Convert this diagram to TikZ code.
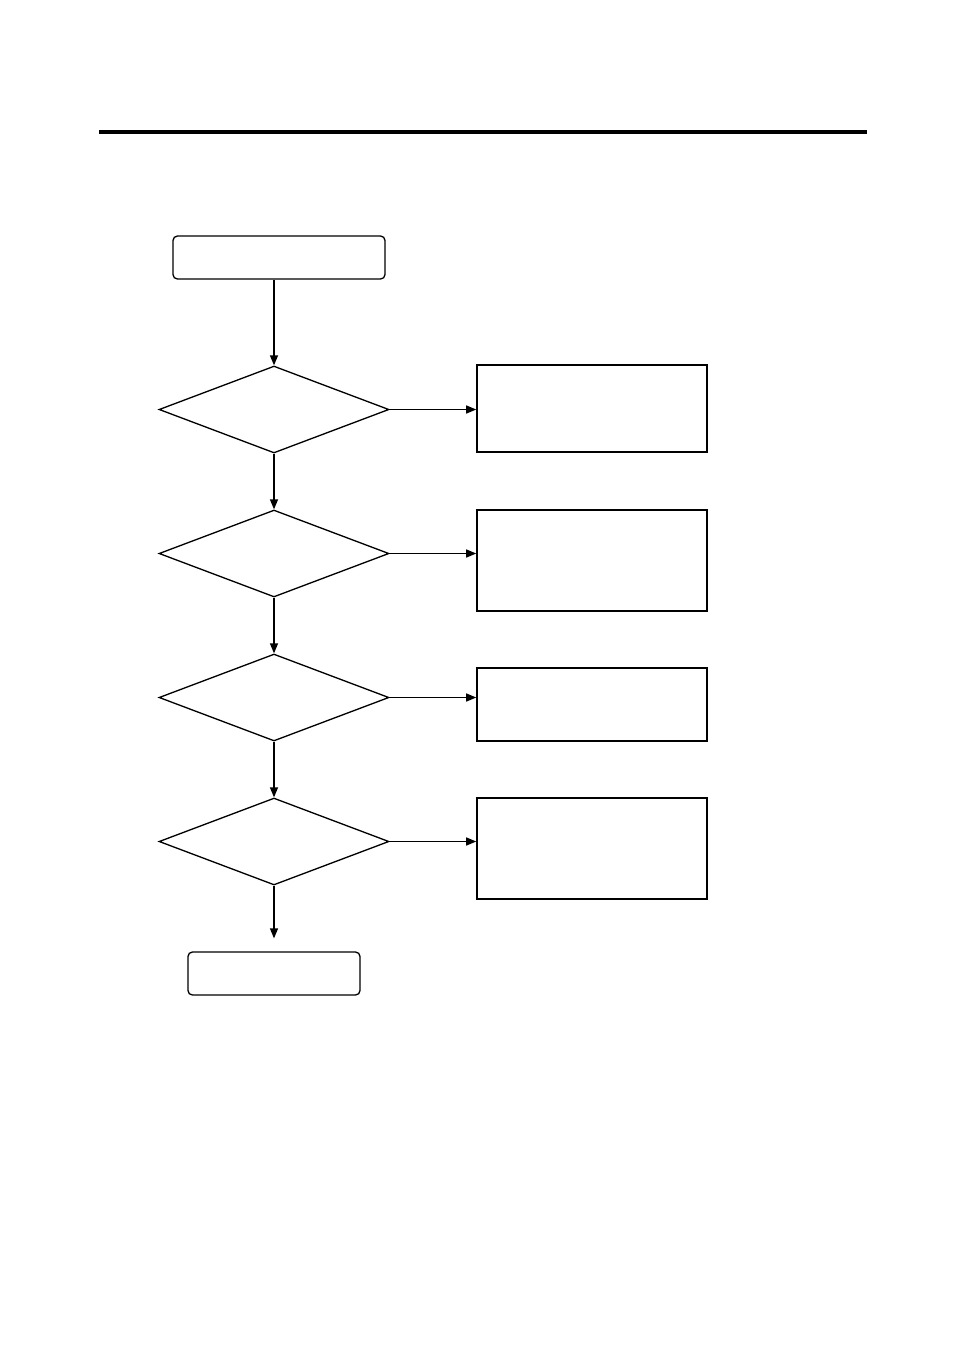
\documentclass[tikz,border=0pt]{standalone}
\usetikzlibrary{shapes.geometric,arrows.meta}
\tikzset{
  termbox/.style={draw,rounded corners=2.5pt,inner sep=0pt},
  testbox/.style={draw,diamond,inner sep=0pt,minimum width=4.6cm,minimum height=1.74cm},
  actbox/.style={draw,line width=0.9pt,inner sep=0pt,minimum width=4.6cm},
  flow/.style={-{Triangle[length=2mm,width=1.6mm]}}
}
\begin{document}
\begin{tikzpicture}[x=0.02cm,y=-0.02cm,line width=0.75pt]
\useasboundingbox (0,0) rectangle (954,1350);
\draw[line width=0.08cm] (99,132) -- (867,132);
\node[termbox,minimum width=4.24cm,minimum height=0.86cm] (start) at (279,257.5) {};
\node[testbox] (t1) at (274,409.5) {};
\node[testbox] (t2) at (274,553.5) {};
\node[testbox] (t3) at (274,697.5) {};
\node[testbox] (t4) at (274,841.5) {};
\node[actbox,minimum height=1.74cm] (a1) at (592,408.5) {};
\node[actbox,minimum height=2.02cm] (a2) at (592,560.5) {};
\node[actbox,minimum height=1.46cm] (a3) at (592,704.5) {};
\node[actbox,minimum height=2.02cm] (a4) at (592,848.5) {};
\node[termbox,minimum width=3.44cm,minimum height=0.86cm] (stop) at (274,973.5) {};
\draw[flow] (start.south -| t1.north) -- (t1.north);
\draw[flow] (t1.south) -- (t2.north);
\draw[flow] (t2.south) -- (t3.north);
\draw[flow] (t3.south) -- (t4.north);
\draw[flow,shorten >=0.26cm] (t4.south) -- (stop.north);
\draw[flow] (t1.east) -- (t1.east -| a1.west);
\draw[flow] (t2.east) -- (t2.east -| a2.west);
\draw[flow] (t3.east) -- (t3.east -| a3.west);
\draw[flow] (t4.east) -- (t4.east -| a4.west);
\end{tikzpicture}
\end{document}
